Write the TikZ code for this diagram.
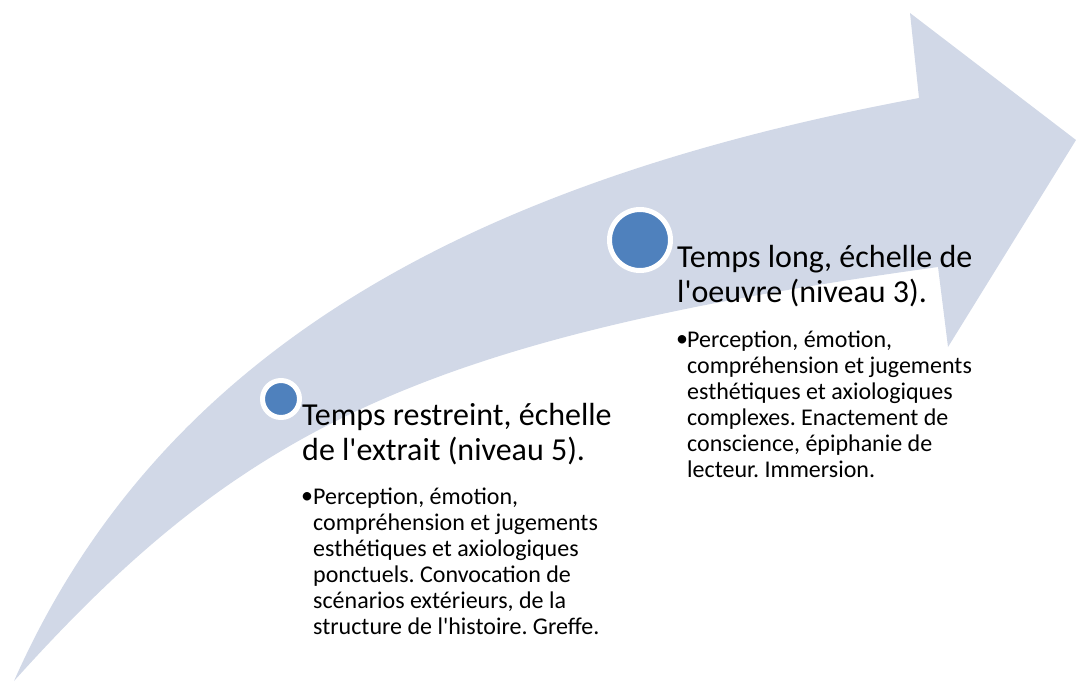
\documentclass[tikz,border=0pt]{standalone}
\usepackage{fontspec}
\setmainfont{Carlito}
\frenchspacing

\definecolor{fleche}{RGB}{209,216,231}
\definecolor{bleu}{RGB}{79,129,189}

\begin{document}
\begin{tikzpicture}[x=1pt, y=-1pt,
    titre/.style={anchor=base west, inner sep=0pt, align=left, font=\fontsize{32}{35}\selectfont},
    corps/.style={anchor=base west, inner sep=0pt, align=left, font=\fontsize{24}{26}\selectfont},
    puce/.style={circle, fill=bleu, draw=white, line width=5pt, inner sep=0pt}]
    \useasboundingbox (0,0) rectangle (1076,681);

    % flèche courbe
    \fill[fleche] (14,681) .. controls (164,342) and (484,179) .. (919,98)
        -- (910,13) -- (1076,140) -- (948,347) -- (938,267)
        .. controls (416,339) and (239,431) .. (14,681) -- cycle;

    % points
    \node[puce, minimum size=37pt] (p1) at (281,399) {};
    \node[puce, minimum size=61pt] (p2) at (640,240) {};

    % niveau 5 (ancre sur la dernière ligne)
    \node[titre] (t1) at (302,460) {Temps restreint, échelle\\de l\textquotesingle extrait (niveau 5).};
    \node[corps] (b1) at (301,503) {\textbullet};
    \node[corps] (c1) at (313,634) {Perception, émotion,\\compréhension et jugements\\esthétiques et axiologiques\\ponctuels. Convocation de\\scénarios extérieurs, de la\\structure de l\textquotesingle histoire. Greffe.};

    % niveau 3
    \node[titre] (t2) at (677,302) {Temps long, échelle de\\l\textquotesingle oeuvre (niveau 3).};
    \node[corps] (b2) at (676,346) {\textbullet};
    \node[corps] (c2) at (687,477) {Perception, émotion,\\compréhension et jugements\\esthétiques et axiologiques\\complexes. Enactement de\\conscience, épiphanie de\\lecteur. Immersion.};
\end{tikzpicture}
\end{document}
